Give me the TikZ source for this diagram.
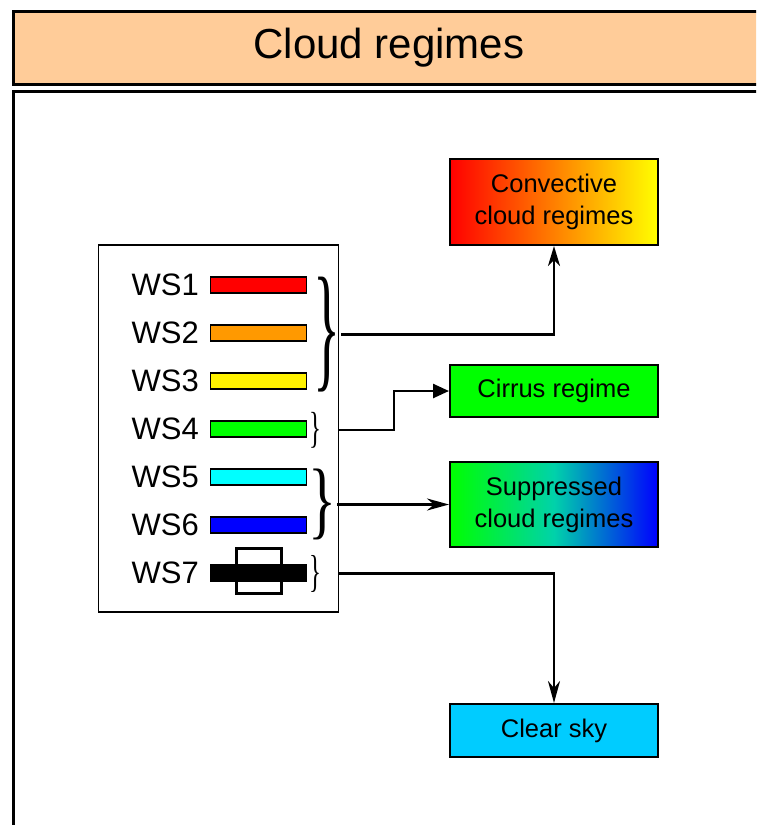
\documentclass[tikz,border=0pt]{standalone}
\usepackage{fontspec}
\setmainfont{Liberation Sans}
\newfontfamily\bracefont{Liberation Serif}
\usetikzlibrary{arrows.meta,positioning}

\definecolor{peach}{HTML}{FFCC99}
\definecolor{wsorange}{HTML}{FF9900}
\definecolor{wsgreen}{HTML}{00FF00}
\definecolor{wscyan}{HTML}{00FFFF}
\definecolor{wsblue}{HTML}{0000FF}
\definecolor{clearsky}{HTML}{00CCFF}
\definecolor{suppmid}{HTML}{00D2AA}

\newcommand{\wsbrace}[2]{\resizebox*{#1}{#2}{\bracefont\}}}

\tikzset{
	wsbar/.style={draw, line width=1.5pt, minimum width=96pt,
		minimum height=16pt, inner sep=0pt},
	wslabel/.style={anchor=east, inner sep=0pt,
		font=\fontsize{31}{36}\selectfont},
	wsbrace/.style={anchor=east, inner sep=0pt},
	regime/.style={draw, line width=2pt, minimum width=208pt, inner sep=0pt,
		align=center, font=\fontsize{25.5}{32}\selectfont},
	link/.style={line width=2.5pt}
}

\begin{document}
\begin{tikzpicture}[x=1pt,y=-1pt]
	\useasboundingbox (0,0) rectangle (756,825);
	\clip (0,0) rectangle (756,825);
	% Kopf
	\draw[
		line width=3pt,
		fill=peach
	] (13,11) rectangle (770,84);
	\node[
		font=\fontsize{42}{48}\selectfont
	] (title) at (389,48) {Cloud regimes};
	% Rahmen
	\draw[
		line width=3pt
	] (13,91) rectangle (770,850);
	% Legende
	\node[
		draw,
		line width=1.5pt,
		minimum width=240pt,
		minimum height=367pt
	] (legend) at (218.5,428.5) {};
	\node[wslabel] (ws1) at (199,285) {WS1};
	\node[wslabel] (ws2) at (199,333) {WS2};
	\node[wslabel] (ws3) at (199,381) {WS3};
	\node[wslabel] (ws4) at (199,429) {WS4};
	\node[wslabel] (ws5) at (199,477) {WS5};
	\node[wslabel] (ws6) at (199,525) {WS6};
	\node[wslabel] (ws7) at (199,573) {WS7};
	\node[wsbar, fill=red] (bar1) at (258.5,285) {};
	\node[wsbar, fill=wsorange] (bar2) at (258.5,333) {};
	\node[wsbar, fill=yellow] (bar3) at (258.5,381) {};
	\node[wsbar, fill=wsgreen] (bar4) at (258.5,429) {};
	\node[wsbar, fill=wscyan] (bar5) at (258.5,477) {};
	\node[wsbar, fill=wsblue] (bar6) at (258.5,525) {};
	% WS7 Symbol
	\node[
		draw,
		line width=3pt,
		fill=white,
		minimum width=45pt,
		minimum height=45pt
	] (box7) at (258.5,571) {};
	\node[
		fill=black,
		minimum width=97pt,
		minimum height=18pt,
		inner sep=0pt
	] (bar7) at (258.5,573) {};
	% Klammern
	\node[wsbrace] (br13) at (341,334.5) {\wsbrace{27pt}{115pt}};
	\node[wsbrace] (br4) at (322,430) {\wsbrace{12pt}{36pt}};
	\node[wsbrace] (br56) at (337,504.5) {\wsbrace{28pt}{71pt}};
	\node[wsbrace] (br7) at (322,573.5) {\wsbrace{12pt}{37pt}};
	% Regime
	\node[
		regime,
		minimum height=86pt,
		left color=red,
		right color=yellow
	] (conv) at (554,202) {Convective\\cloud regimes};
	\node[
		regime,
		minimum height=52pt,
		fill=wsgreen
	] (cirrus) at (554,391) {Cirrus regime};
	\node[
		regime,
		minimum height=85pt,
		left color=wsgreen,
		right color=wsblue,
		middle color=suppmid
	] (supp) at (554,504.5) {Suppressed\\cloud regimes};
	\node[
		regime,
		minimum height=53pt,
		fill=clearsky
	] (clear) at (554,730.5) {Clear sky};
	% Verbindungen
	\draw[
		link,
		-{Stealth[length=20pt,width=12pt,inset=6pt]}
	] (br13.east) -| (conv.south);
	\draw[
		link,
		-{Triangle[length=16pt,width=14pt]}
	] (legend.east |- br4.east) -| ([xshift=-55pt]cirrus.west) -- (cirrus.west);
	\draw[
		link,
		-{Stealth[length=22pt,width=12pt,inset=7pt]}
	] (br56.east) -- (br56.east -| supp.west);
	\draw[
		link,
		-{Stealth[length=22pt,width=12pt,inset=7pt]}
	] (legend.east |- br7.east) -| (clear.north);

\end{tikzpicture}
\end{document}
